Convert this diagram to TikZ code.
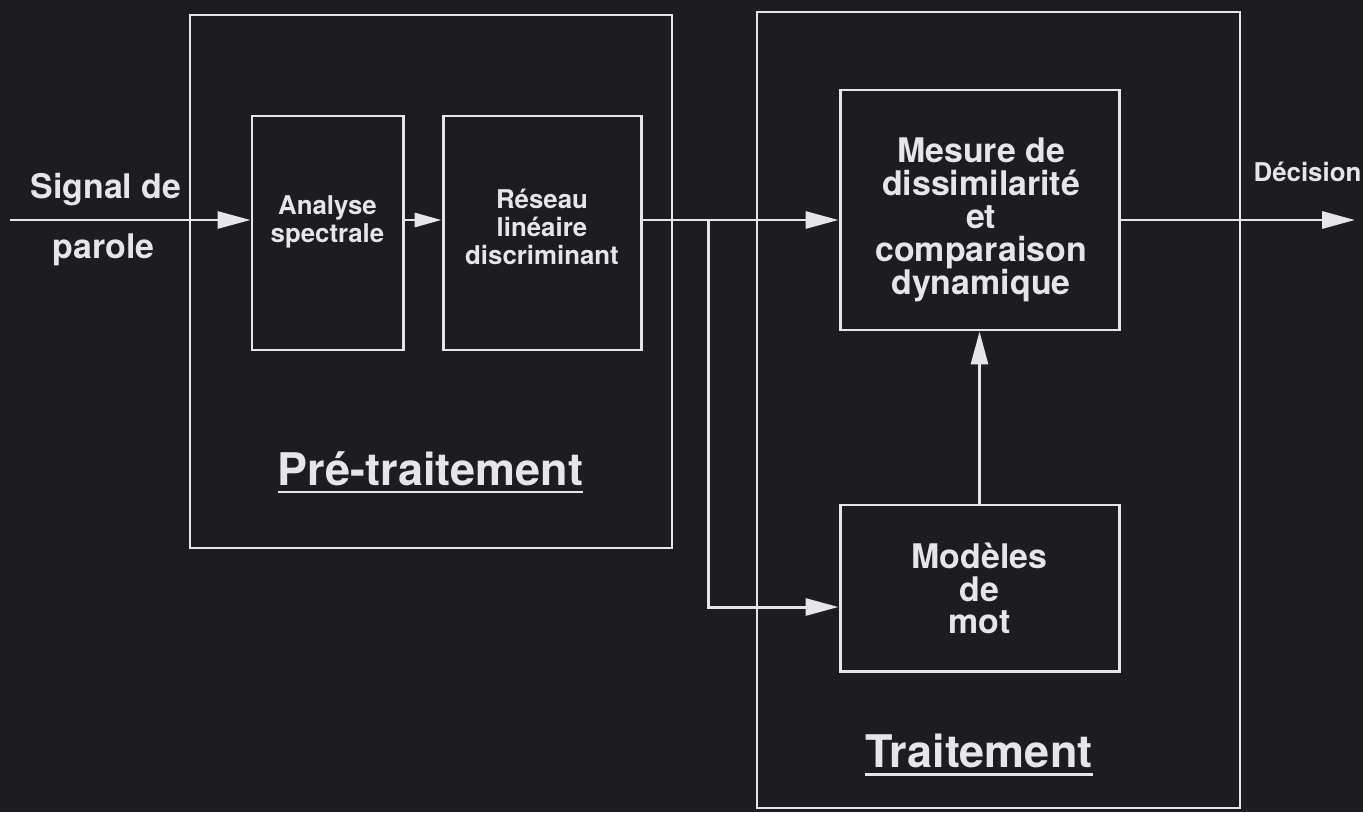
\documentclass[tikz,border=0pt]{standalone}
\usepackage{fontspec}
\setmainfont{TeX Gyre Heros}
\usepackage{tikz}
\usetikzlibrary{arrows.meta,positioning}
\definecolor{bgdark}{HTML}{1D1C21}
\definecolor{inkw}{HTML}{E6E6E8}
\tikzset{
  frame/.style={draw=inkw,line width=1.5pt,inner sep=0pt},
  blk/.style={frame,line width=1.7pt},
  lbl/.style={text=inkw,align=center,inner sep=0pt,font=\bfseries\fontsize{14.7}{16}\selectfont},
  big/.style={lbl,font=\bfseries\fontsize{19.3}{18.7}\selectfont},
  ttl/.style={lbl,font=\bfseries\fontsize{25.6}{28}\selectfont},
  wire/.style={draw=inkw,line width=1.7pt},
  ar/.style={wire,-{Triangle[length=6.6mm,width=3.4mm]}},
  ars/.style={wire,-{Triangle[length=5.4mm,width=2.8mm]}},
}
\begin{document}
\begin{tikzpicture}
  \fill[bgdark] (0,0) rectangle (27.26,16.24);
  % the two stages
  \node[frame,minimum width=9.64cm,minimum height=10.66cm] (pre) at (8.62,10.61) {};
  \node[frame,minimum width=9.66cm,minimum height=15.92cm] (trt) at (19.97,8.04) {};
  \node[ttl,anchor=base] (pret) at (8.61,6.54) {Pré-traitement};
  \node[ttl,anchor=base] (trtt) at (19.58,0.9) {Traitement};
  \draw[wire] ([yshift=-0.14cm]pret.base west) -- ([yshift=-0.14cm]pret.base east);
  \draw[wire] ([yshift=-0.14cm]trtt.base west) -- ([yshift=-0.14cm]trtt.base east);
  % blocks
  \node[blk,minimum width=3.02cm,minimum height=4.68cm] (ana) at (6.55,11.58) {};
  \node[blk,minimum width=3.96cm,minimum height=4.68cm] (res) at (10.84,11.58) {};
  \node[blk,minimum width=5.58cm,minimum height=4.8cm] (mes) at (19.59,12.04) {};
  \node[blk,minimum width=5.58cm,minimum height=3.32cm] (mod) at (19.59,4.48) {};
  \node[lbl] (anat) at (6.55,11.8) {Analyse\\spectrale};
  \node[lbl] (rest) at (10.84,11.7) {Réseau\\linéaire\\discriminant};
  \node[big] (mest) at (19.62,11.84) {Mesure de\\dissimilarité\\et\\comparaison\\dynamique};
  \node[big] (modt) at (19.59,4.47) {Modèles\\de\\mot};
  % in / out
  \node[big,anchor=base] (sigt) at (2.12,12.26) {Signal de};
  \node[big,anchor=base] (part) at (2.07,11.08) {parole};
  \node[lbl,anchor=base] (dect) at (26.15,12.6) {Décision};
  \coordinate (sig) at (0.2,11.84);
  \coordinate (out) at (27.1,11.84);
  \coordinate (br) at (14.16,11.84);
  \coordinate (brd) at (14.16,4.1);
  % connectors
  \draw[ar] (sig) -- (sig -| ana.west);
  \draw[ars] (ana.east |- sig) -- (sig -| res.west);
  \draw[ar] (res.east |- sig) -- (sig -| mes.west);
  \draw[ar] (br) -- (brd) -- (brd -| mod.west);
  \draw[ar] (mod.north) -- (mes.south);
  \draw[ar] (mes.east |- sig) -- (out);
\end{tikzpicture}
\end{document}
